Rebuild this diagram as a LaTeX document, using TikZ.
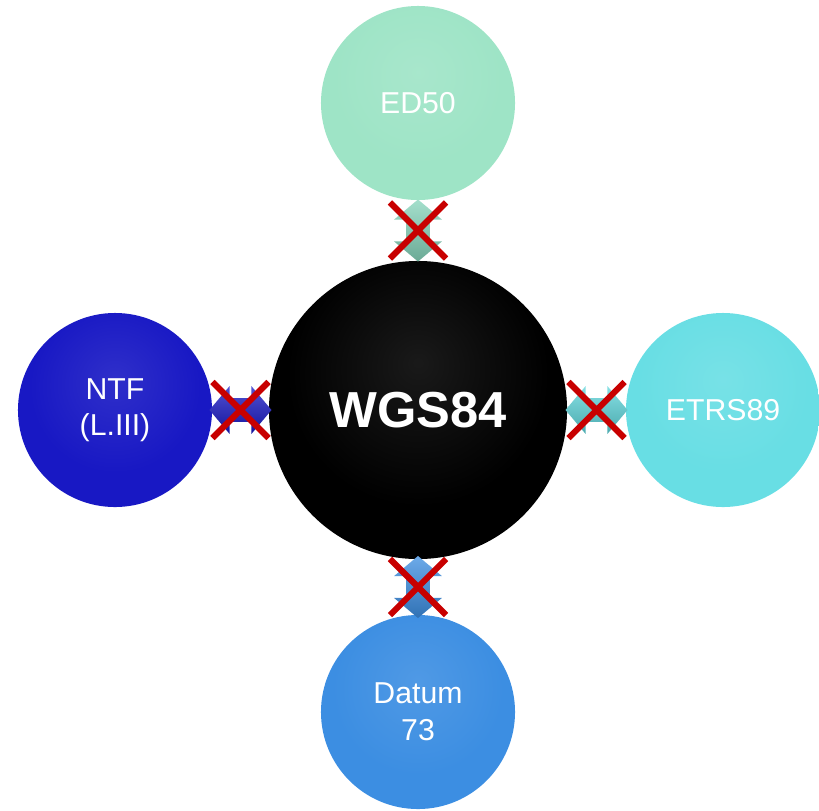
\documentclass[tikz,border=0pt]{standalone}
\usepackage{fontspec}
\setmainfont{Liberation Sans}
\usetikzlibrary{shapes.arrows,shapes.misc,calc}

\definecolor{edgreen}{RGB}{158,228,198}
\definecolor{ntfblue}{RGB}{24,24,196}
\definecolor{etcyan}{RGB}{104,222,228}
\definecolor{dtblue}{RGB}{60,142,226}
\definecolor{nored}{RGB}{200,0,0}

% button look: flat face, darker rim, light spot a bit above the middle
\colorlet{btnhi}{black}\colorlet{btnin}{black}\colorlet{btnout}{black}
\pgfdeclareradialshading[btnhi,btnin,btnout]{button}{\pgfpoint{0bp}{8bp}}{%
  color(0bp)=(btnhi); color(22bp)=(btnin); color(40bp)=(btnin);
  color(56bp)=(btnout); color(80bp)=(btnout)}

\begin{document}
\begin{tikzpicture}[
  x=0.025cm, y=-0.025cm,
  every node/.style={inner sep=0pt},
  tint/.code={\colorlet{btnhi}{#1!90!white}\colorlet{btnin}{#1}\colorlet{btnout}{#1!78!black}},
  ball/.style={circle, minimum size=4.85cm, shading=button, text=white, align=center,
    font=\fontsize{21.5}{26}\selectfont},
  hub/.style={ball, minimum size=7.45cm, font=\bfseries\fontsize{36}{40}\selectfont},
  link/.style={double arrow, inner xsep=0pt, inner ysep=0.29cm, minimum height=1.55cm,
    minimum width=1.18cm, double arrow head extend=0.3cm, double arrow tip angle=100,
    top color=#1!75!white, bottom color=#1!80!black},
  nope/.style={cross out, draw=nored, line width=4.3pt, minimum size=1.25cm}]

  \useasboundingbox (0,0) rectangle (819,810);

  % ---- datums -------------------------------------------------------------
  \node[hub,  tint=black]   (WGS)  at (418,410) {WGS84};
  \node[ball, tint=edgreen] (ED)   at (418,103) {ED50};
  \node[ball, tint=ntfblue] (NTF)  at (115,410) {NTF\\(L.III)};
  \node[ball, tint=etcyan]  (ETRS) at (723,410) {ETRS89};
  \node[ball, tint=dtblue]  (DAT)  at (418,712) {Datum\\73};

  % ---- links, all struck out ------------------------------------------------
  \node[link=edgreen!85!teal, rotate=90] (lkN) at ($(ED.south)!0.5!(WGS.north)$) {};
  \node[link=ntfblue]                    (lkW) at ($(NTF.east)!0.5!(WGS.west)$) {};
  \node[link=etcyan!90!teal]             (lkE) at ($(ETRS.west)!0.5!(WGS.east)$) {};
  \node[link=dtblue, rotate=90]          (lkS) at ($(DAT.north)!0.5!(WGS.south)$) {};

  \node[nope] (xN) at (lkN) {};
  \node[nope] (xW) at (lkW) {};
  \node[nope] (xE) at (lkE) {};
  \node[nope] (xS) at (lkS) {};
\end{tikzpicture}
\end{document}
